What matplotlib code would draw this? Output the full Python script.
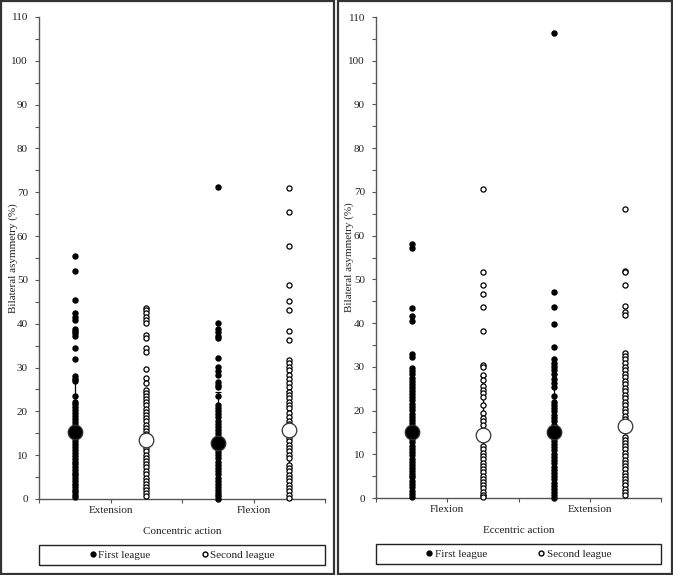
import matplotlib
matplotlib.use("Agg")
import matplotlib.pyplot as plt
from matplotlib.patches import Rectangle

plt.rcParams['font.family'] = ['Liberation Serif', 'DejaVu Serif']

# x positions of the four columns (axis runs 0..4)
xpos = [0.5, 1.5, 2.5, 3.5]

# Concentric action panel
conc_labels = ['Extension', 'Flexion']
conc_ext_first = [55.5, 52.0, 45.4, 42.4, 41.6, 40.8, 38.9, 38.3, 37.8, 37.2, 34.4, 31.9, 28.1, 27.5, 26.9,
                  23.4, 22.1, 21.6, 21.0, 20.4, 19.6, 18.9, 18.2, 17.6, 17.0, 16.3, 15.8, 15.1, 14.4, 13.9,
                  13.2, 12.5, 11.9, 11.2, 10.6, 9.8, 9.2, 8.5, 7.9, 7.3, 6.6, 5.9, 5.4, 4.7, 4.1, 3.4, 2.8,
                  2.1, 1.5, 0.9, 0.4]
conc_ext_second = [43.7, 43.1, 42.4, 41.6, 40.8, 40.1, 37.4, 36.7, 34.4, 33.6, 29.6, 27.7, 26.5, 24.9,
                   24.2, 23.5, 22.8, 22.1, 21.4, 20.6, 19.9, 19.1, 18.4, 17.7, 17.0, 16.2, 15.5, 14.8,
                   11.6, 10.9, 10.1, 9.4, 8.6, 7.9, 7.2, 6.4, 5.7, 4.9, 4.2, 3.5, 2.7, 2.0, 1.3, 0.6]
conc_flex_first = [71.3, 40.1, 38.9, 38.2, 37.2, 36.7, 32.1, 30.2, 29.2, 28.2, 26.8, 26.0, 25.6, 23.6,
                   21.5, 20.8, 20.1, 19.4, 18.6, 17.9, 17.2, 16.4, 15.7, 15.0, 14.3, 13.6, 12.8, 12.1,
                   11.4, 10.7, 10.0, 9.3, 8.5, 7.8, 7.1, 6.4, 5.7, 4.9, 4.2, 3.5, 2.8, 2.1, 1.4, 0.7, 0.1]
conc_flex_second = [70.9, 65.4, 57.7, 48.8, 45.2, 43.1, 38.3, 36.3, 31.7, 31.0, 30.2, 29.4, 28.3, 27.5,
                    26.4, 25.6, 24.5, 23.7, 23.0, 22.2, 21.5, 20.7, 19.7, 18.8, 17.9, 17.1, 13.9, 13.2,
                    12.4, 11.7, 10.9, 10.1, 9.3, 7.8, 7.0, 6.3, 5.5, 4.8, 4.0, 3.3, 2.5, 1.8, 1.0, 0.3]
conc_means = [15.3, 13.5, 12.7, 15.8]
conc_sd = [12.0, 11.0, 11.8, 8.8]

# Eccentric action panel
ecc_labels = ['Flexion', 'Extension']
ecc_flex_first = [58.2, 57.1, 43.4, 41.6, 40.5, 32.9, 32.2, 29.7, 29.0, 28.3, 27.5, 26.8, 26.0, 25.3,
                  24.5, 23.8, 23.0, 22.3, 21.6, 20.8, 20.1, 19.3, 18.6, 17.9, 17.1, 16.4, 15.7, 14.9,
                  14.2, 13.5, 12.7, 12.0, 11.3, 10.5, 9.8, 9.0, 8.3, 7.6, 6.9, 6.1, 5.4, 4.7, 3.9, 3.2,
                  2.5, 1.7, 1.0, 0.3]
ecc_flex_second = [70.7, 51.6, 48.8, 46.6, 43.6, 38.2, 30.4, 29.9, 28.1, 27.0, 25.5, 24.7, 24.0, 23.2,
                   21.3, 19.4, 18.3, 17.5, 16.7, 11.8, 11.1, 10.4, 9.6, 8.9, 8.1, 7.4, 6.6, 5.9, 5.1,
                   4.4, 3.7, 2.9, 2.2, 1.4, 0.7, 0.2]
ecc_ext_first = [106.4, 47.1, 43.7, 39.8, 34.5, 31.7, 30.8, 30.0, 29.2, 28.4, 27.3, 26.3, 25.4, 23.3,
                 22.0, 21.2, 20.5, 19.8, 19.0, 18.3, 17.5, 16.8, 16.0, 15.3, 14.6, 13.8, 13.1, 12.4,
                 11.6, 10.9, 10.1, 9.4, 8.7, 7.9, 7.2, 6.5, 5.7, 5.0, 4.3, 3.5, 2.8, 2.1, 1.3, 0.6, 0.1]
ecc_ext_second = [66.2, 51.9, 51.6, 48.6, 43.9, 42.6, 41.8, 33.1, 32.5, 31.9, 30.9, 30.0, 29.2, 28.4,
                  27.6, 26.8, 26.0, 25.2, 24.4, 23.6, 22.8, 22.0, 21.2, 20.4, 19.6, 18.8, 18.1, 14.0,
                  13.3, 12.6, 11.8, 11.1, 10.3, 9.6, 8.8, 8.1, 7.3, 6.6, 5.8, 5.1, 4.4, 3.6, 2.9, 2.1,
                  1.4, 0.6]
ecc_means = [15.0, 14.4, 15.0, 16.5]
ecc_sd = [10.0, 13.6, 15.5, 13.5]

TXT = '#222222'
AXC = '#555555'


def draw_panel(ax, columns, means, sds, labels, xlabel, ylab_x):
    for i, vals in enumerate(columns):
        first = (i % 2 == 0)
        ax.plot([xpos[i]] * len(vals), vals, 'o', ms=3.7, mec='black', mew=0.9,
                mfc='black' if first else 'white', zorder=3, clip_on=False)
        ax.errorbar(xpos[i], means[i], yerr=sds[i], fmt='none', ecolor='black',
                    elinewidth=0.9, capsize=2, capthick=0.9, zorder=2)
        ax.plot(xpos[i], means[i], 'o', ms=10.5, mec='#333333', mew=0.9,
                mfc='black' if first else 'white', zorder=4)

    ax.set_xlim(0, 4)
    ax.set_ylim(0, 110)
    ax.set_yticks(range(0, 111, 10))
    ax.set_yticks(range(5, 110, 10), minor=True)
    ax.set_xticks([0, 1, 2, 3, 4])
    ax.set_xticklabels(['', labels[0], '', labels[1], ''])
    ax.tick_params(axis='both', colors=AXC, labelcolor=TXT, labelsize=8, length=3, width=0.8)
    ax.tick_params(axis='y', which='minor', length=3, width=0.8, colors=AXC)
    ax.tick_params(axis='y', pad=5)
    ax.tick_params(axis='x', pad=2)
    for s in ['top', 'right']:
        ax.spines[s].set_visible(False)
    for s in ['left', 'bottom']:
        ax.spines[s].set_color(AXC)
        ax.spines[s].set_linewidth(1.0)
    ax.set_ylabel('Bilateral asymmetry (%)', fontsize=8, color=TXT)
    ax.yaxis.set_label_coords(ylab_x, 0.5)
    ax.set_xlabel(xlabel, fontsize=8, color=TXT, labelpad=9)

    # legend inside a box under the axes
    ax.plot([], [], 'o', ms=3.5, mfc='black', mec='black', label='First league')
    ax.plot([], [], 'o', ms=3.5, mfc='white', mec='black', label='Second league')
    ax.legend(loc='center', bbox_to_anchor=(0.5, -0.116), ncol=2, frameon=False, fontsize=8,
              handlelength=0.6, handletextpad=0.2, columnspacing=4.6, labelcolor=TXT)
    ax.add_patch(Rectangle((0, -0.137), 1, 0.042, transform=ax.transAxes, fill=False,
                           ec='#222222', lw=1.0, clip_on=False))


fig = plt.figure(figsize=(6.73, 5.75), dpi=100)

ax1 = fig.add_axes([39 / 673, 76 / 575, 286 / 673, 482 / 575])
ax2 = fig.add_axes([376 / 673, 77 / 575, 285 / 673, 481 / 575])

draw_panel(ax1, [conc_ext_first, conc_ext_second, conc_flex_first, conc_flex_second],
           conc_means, conc_sd, conc_labels, 'Concentric action', -0.075)
draw_panel(ax2, [ecc_flex_first, ecc_flex_second, ecc_ext_first, ecc_ext_second],
           ecc_means, ecc_sd, ecc_labels, 'Eccentric action', -0.078)

# outer frames around each panel
fig.patches.append(Rectangle((1 / 673, 1 / 575), 333 / 673, 573 / 575, transform=fig.transFigure,
                             fill=False, ec='#333333', lw=1.6))
fig.patches.append(Rectangle((338 / 673, 1 / 575), 334 / 673, 573 / 575, transform=fig.transFigure,
                             fill=False, ec='#333333', lw=1.6))

fig.savefig('out.png', dpi=100)
